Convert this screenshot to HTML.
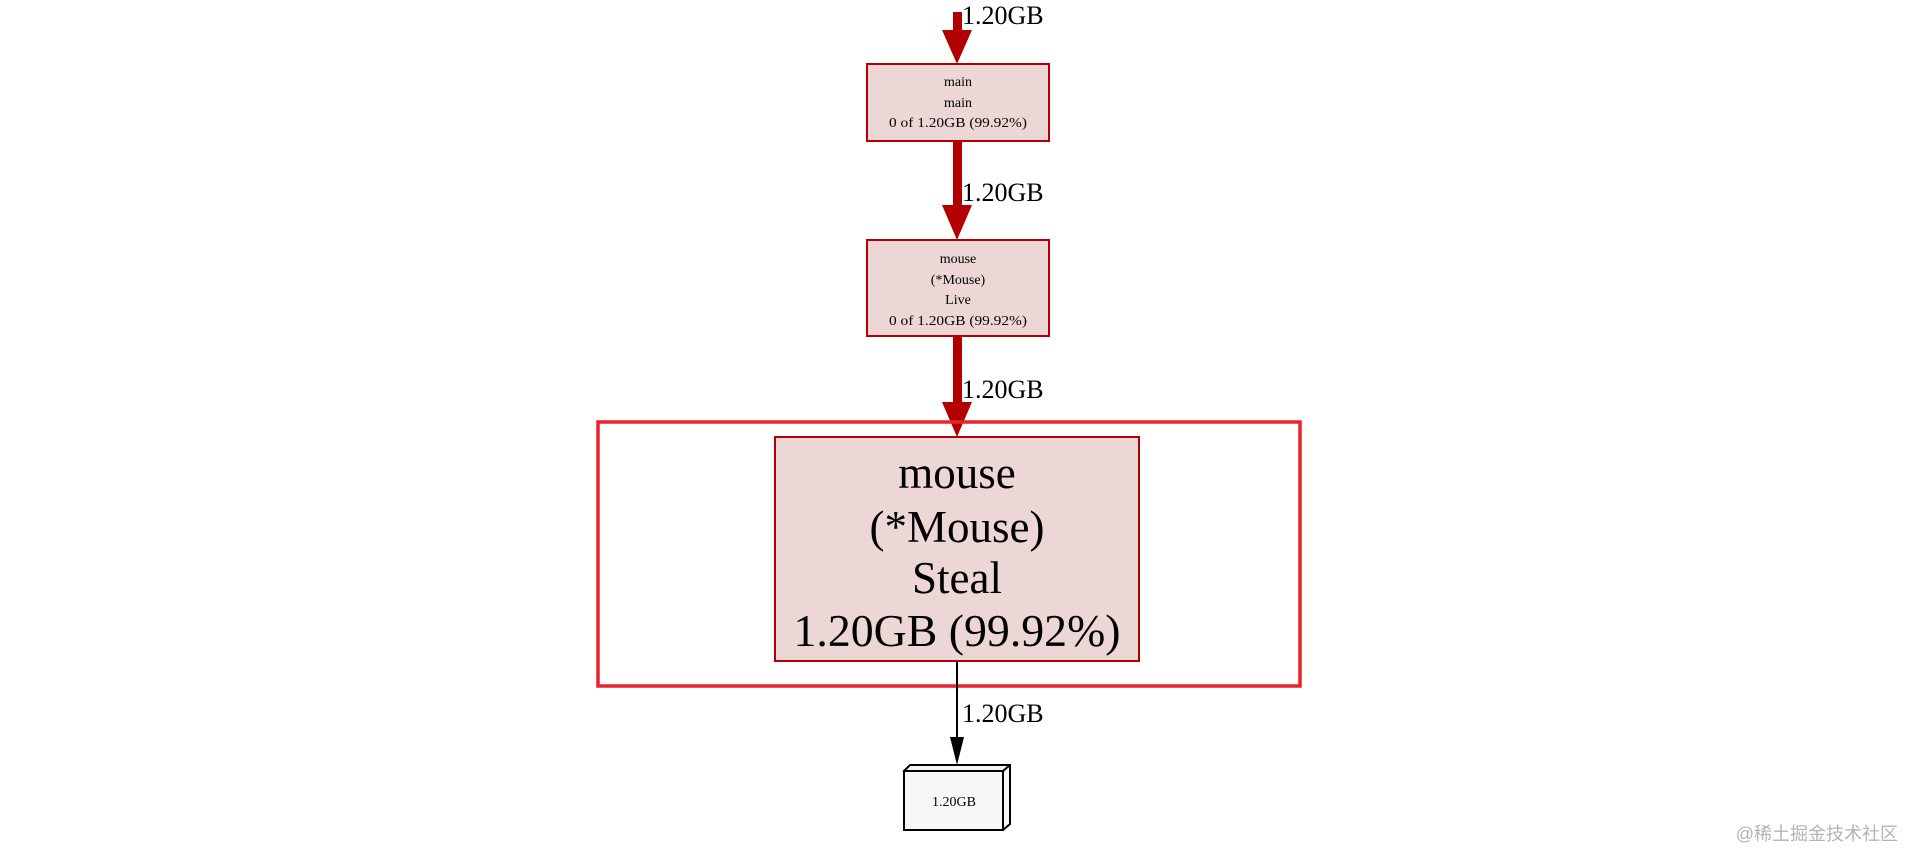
<!DOCTYPE html>
<html><head><meta charset="utf-8"><style>
html,body{margin:0;padding:0;background:#fff;width:1920px;height:851px;overflow:hidden}
svg{display:block}
text{font-family:"Liberation Serif",serif;fill:#000}
</style></head><body>
<svg width="1920" height="851" viewBox="0 0 1920 851">
<!-- edge 1 -->
<rect x="953" y="12" width="9" height="22" fill="#b20000"/>
<polygon points="942,30 972,30 957,64" fill="#b20000"/>
<text x="962" y="24" font-size="26">1.20GB</text>
<!-- main box -->
<rect x="867" y="64" width="182" height="77" fill="#edd6d6" stroke="#b20000" stroke-width="2"/>
<text x="958" y="86" font-size="14" text-anchor="middle">main</text>
<text x="958" y="107" font-size="14" text-anchor="middle">main</text>
<text x="958" y="127" font-size="14" text-anchor="middle" textLength="138" lengthAdjust="spacingAndGlyphs">0 of 1.20GB (99.92%)</text>
<!-- edge 2 -->
<rect x="953" y="141" width="9" height="68" fill="#b20000"/>
<polygon points="942,205 972,205 957,240" fill="#b20000"/>
<text x="962" y="201" font-size="26">1.20GB</text>
<!-- box 2 -->
<rect x="867" y="240" width="182" height="96" fill="#edd6d6" stroke="#b20000" stroke-width="2"/>
<text x="958" y="263" font-size="14" text-anchor="middle">mouse</text>
<text x="958" y="284" font-size="14" text-anchor="middle">(*Mouse)</text>
<text x="958" y="304" font-size="14" text-anchor="middle">Live</text>
<text x="958" y="325" font-size="14" text-anchor="middle" textLength="138" lengthAdjust="spacingAndGlyphs">0 of 1.20GB (99.92%)</text>
<!-- edge 3 -->
<rect x="953" y="336" width="9" height="70" fill="#b20000"/>
<polygon points="942,402 972,402 957,437" fill="#b20000"/>
<text x="962" y="398" font-size="26">1.20GB</text>
<!-- outer highlight -->
<rect x="598" y="422" width="702" height="264" fill="none" stroke="#e8232b" stroke-width="3.5"/>
<!-- inner box -->
<rect x="775" y="437" width="364" height="224" fill="#edd6d6" stroke="#b20000" stroke-width="2"/>
<text x="957" y="488" font-size="45" text-anchor="middle">mouse</text>
<text x="957" y="542" font-size="45" text-anchor="middle">(*Mouse)</text>
<text x="957" y="593" font-size="45" text-anchor="middle">Steal</text>
<text x="957" y="646" font-size="45" text-anchor="middle" textLength="327" lengthAdjust="spacingAndGlyphs">1.20GB (99.92%)</text>
<!-- edge 4 -->
<line x1="957" y1="661" x2="957" y2="740" stroke="#000" stroke-width="2"/>
<polygon points="950,737 964,737 957,765" fill="#000"/>
<text x="962" y="722" font-size="26">1.20GB</text>
<!-- 3D box -->
<polygon points="904,771 910,765 1010,765 1010,824 1003,830" fill="#f5f5f5" stroke="#000" stroke-width="2"/>
<line x1="1003" y1="771" x2="1010" y2="765" stroke="#000" stroke-width="2"/>
<rect x="904" y="771" width="99" height="59" fill="#f7f7f7" stroke="#000" stroke-width="2"/>
<text x="954" y="806" font-size="14" text-anchor="middle">1.20GB</text>
<!-- watermark -->
<text x="1898" y="840" font-size="18" text-anchor="end" style="font-family:'Liberation Sans','Noto Sans CJK SC',sans-serif;fill:#b4b4b4">@稀土掘金技术社区</text>
</svg>
</body></html>
